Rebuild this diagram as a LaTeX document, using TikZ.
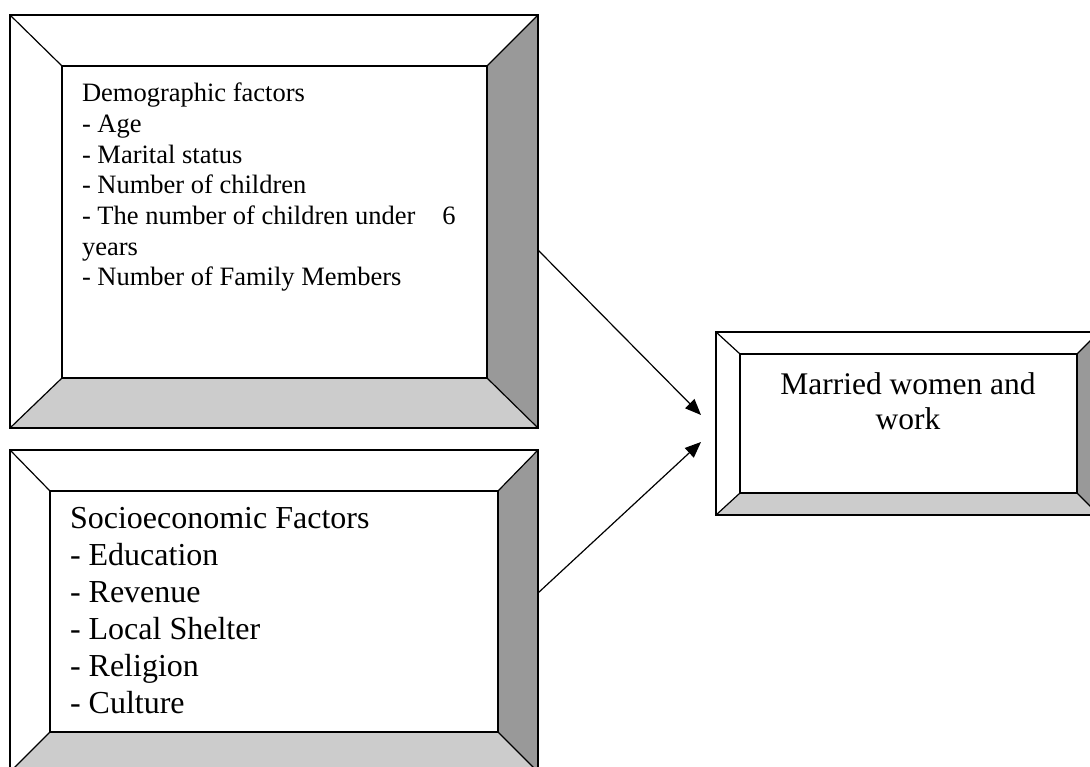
\documentclass[tikz,border=0pt]{standalone}
\usepackage{fontspec}
\setmainfont{Liberation Serif}
\usetikzlibrary{arrows.meta}
\definecolor{sidegray}{HTML}{999999}
\definecolor{botgray}{HTML}{CCCCCC}
\tikzset{
  frame/.style={rectangle, inner sep=0pt, outer sep=0pt},
  edge/.style={line width=1.2pt, black},
  side/.style={fill=sidegray},
  bottom/.style={fill=botgray},
  arr/.style={line width=1.2pt, -{Triangle[length=16pt,width=13pt]}},
  lbl/.style={inner sep=0pt, outer sep=0pt}
}
\begin{document}
\begin{tikzpicture}[x=1pt,y=-1pt]
\useasboundingbox (0,0) rectangle (1090,767);
\clip (0,0) rectangle (1090,767);
\fill[white] (0,0) rectangle (1090,767);
% frames (outer and inner) as named nodes
\node[frame, minimum width=528pt, minimum height=413pt, anchor=north west] (b1) at (10,15) {};
\node[frame, minimum width=425pt, minimum height=312pt, anchor=north west] (b1i) at (62,66) {};
\node[frame, minimum width=528pt, minimum height=322pt, anchor=north west] (b2) at (10,450) {};
\node[frame, minimum width=448pt, minimum height=241pt, anchor=north west] (b2i) at (50,491) {};
\node[frame, minimum width=383pt, minimum height=183pt, anchor=north west] (b3) at (716,332) {};
\node[frame, minimum width=337pt, minimum height=139pt, anchor=north west] (b3i) at (740,354) {};
% bevel fills and lines
\foreach \o/\i in {b1/b1i, b2/b2i, b3/b3i}{
  \fill[side] (\o.north east) -- (\o.south east) -- (\i.south east) -- (\i.north east) -- cycle;
  \fill[bottom] (\o.south west) -- (\o.south east) -- (\i.south east) -- (\i.south west) -- cycle;
  \draw[edge] (\o.north west) rectangle (\o.south east);
  \draw[edge] (\i.north west) rectangle (\i.south east);
  \draw[edge] (\o.north west) -- (\i.north west);
  \draw[edge] (\o.north east) -- (\i.north east);
  \draw[edge] (\o.south west) -- (\i.south west);
  \draw[edge] (\o.south east) -- (\i.south east);
}
% texts
\node[lbl, anchor=north west, align=left, font=\fontsize{26.5}{30.7}\selectfont] (t1) at (82,83)
  {Demographic factors\\- Age\\- Marital status\\- Number of children\\- The number of children under\hspace{27pt}6\\years\\- Number of Family Members};
\node[lbl, anchor=north west, align=left, font=\fontsize{32}{37}\selectfont] (t2) at (70,507)
  {Socioeconomic Factors\\- Education\\- Revenue\\- Local Shelter\\- Religion\\- Culture};
\node[lbl, anchor=north, align=center, font=\fontsize{31.5}{35}\selectfont] (t3) at (908,373)
  {Married women and\\work};
% connectors
\draw[arr] ([yshift=-28.5pt]b1.east) -- ([xshift=-15pt,yshift=8.5pt]b3.west);
\draw[arr] ([yshift=18pt]b2.east) -- ([xshift=-15pt,yshift=-18.5pt]b3.west);
\end{tikzpicture}
\end{document}
